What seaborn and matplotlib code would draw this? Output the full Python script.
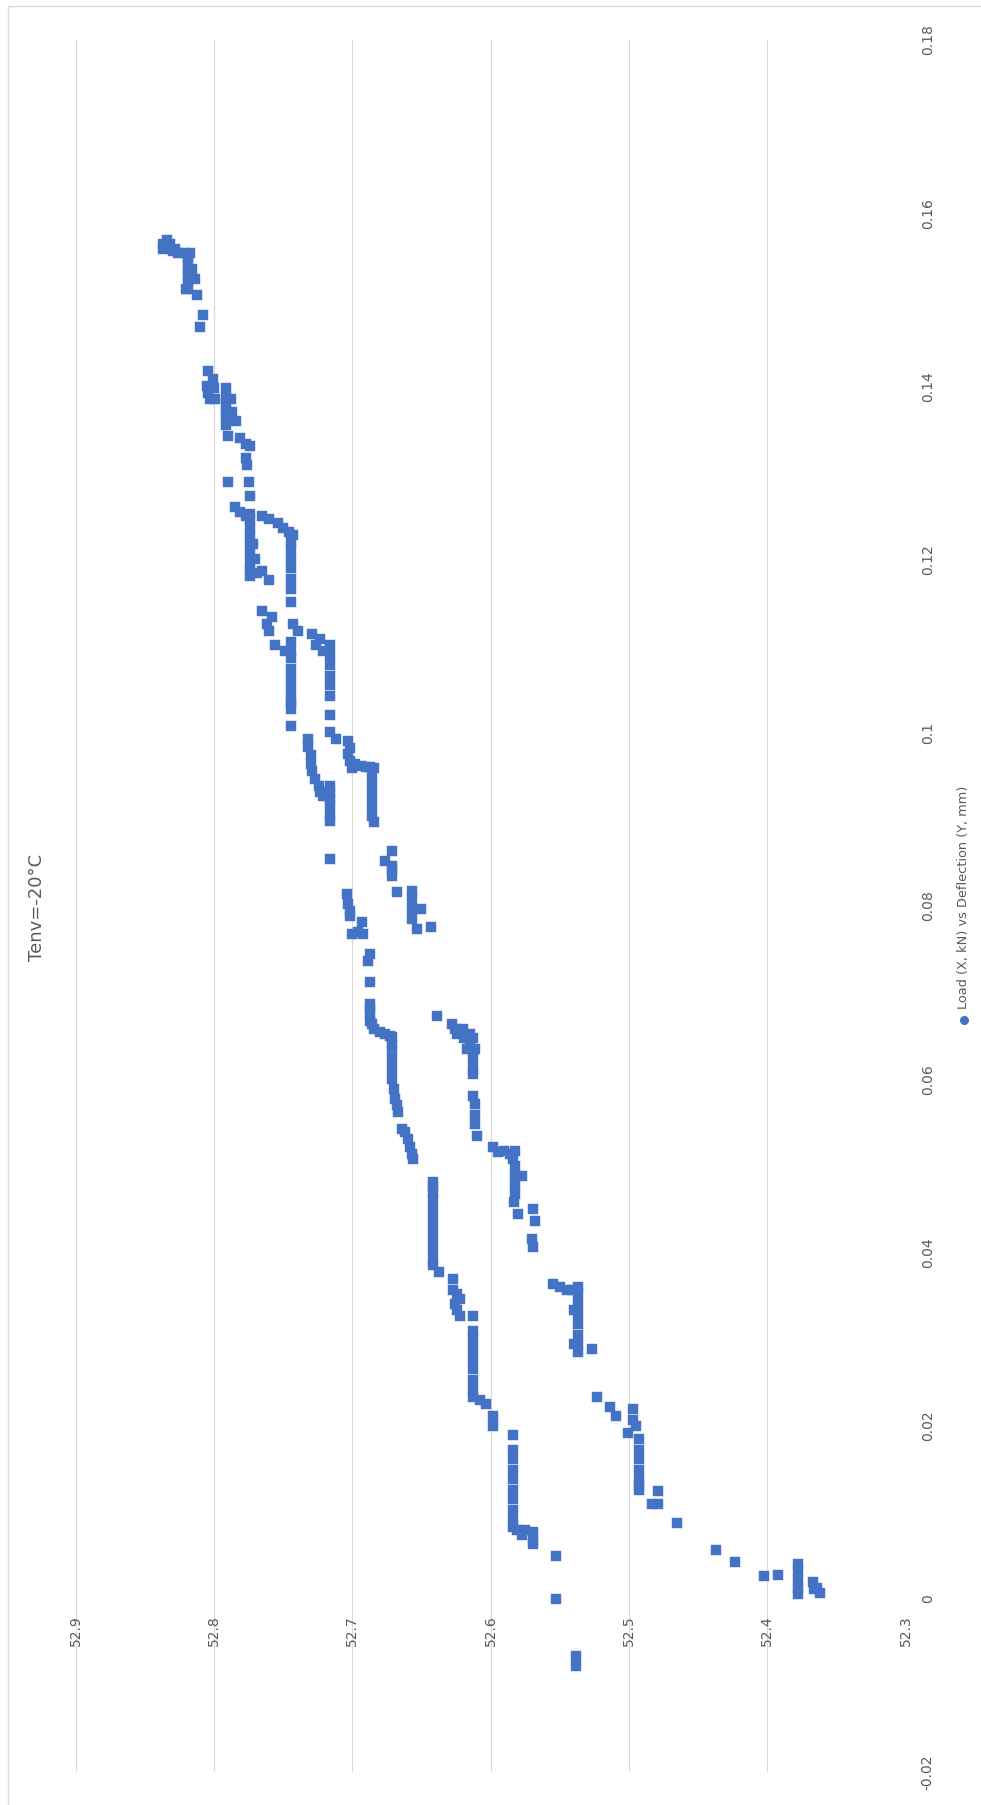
import matplotlib
matplotlib.use("Agg")
import matplotlib.pyplot as plt
from matplotlib.lines import Line2D
from matplotlib.ticker import FuncFormatter
import pandas as pd
import seaborn as sns

# Load (kN) and deflection (mm) readings, split by load range
high_load = [
    0.1569, 0.1565, 0.1565, 0.1559, 0.1559, 0.1556, 0.1554, 0.1554, 0.1554,
    0.1548, 0.1542, 0.1536, 0.1528, 0.1521, 0.1513,
    0.1536, 0.1524, 0.1505, 0.1513, 0.1482, 0.1469,
    0.1418, 0.1409, 0.1398, 0.1386, 0.1401, 0.1392, 0.1386,
    0.1398, 0.1388, 0.1380, 0.1372, 0.1363, 0.1355,
    0.1386, 0.1371, 0.1360, 0.1343,
    0.1340, 0.1334, 0.1331, 0.1309, 0.1317,
    0.1290, 0.1290, 0.1274,
    0.1261, 0.1255, 0.1250, 0.1253,
    0.1247, 0.1238, 0.1228, 0.1218, 0.1207, 0.1195, 0.1187, 0.1181,
    0.1218, 0.1201, 0.1184, 0.1187, 0.1176,
    0.1250, 0.1247, 0.1242, 0.1236, 0.1232, 0.1228,
    0.1222, 0.1212, 0.1201, 0.1190, 0.1178, 0.1166, 0.1151,
    0.1141, 0.1134, 0.1126, 0.1118, 0.1101, 0.1095,
    0.1105, 0.1095, 0.1086, 0.1074, 0.1062, 0.1051, 0.1039,
    0.1126, 0.1118,
    0.1114, 0.1101, 0.1094, 0.1101, 0.1108,
    0.1090, 0.1078, 0.1066, 0.1055, 0.1043,
    0.1034, 0.1028, 0.1008, 0.1020, 0.1001,
]
high_defl = [
    52.834, 52.837, 52.832, 52.837, 52.828, 52.830, 52.826, 52.821, 52.817,
    52.819, 52.819, 52.819, 52.819, 52.819, 52.819,
    52.816, 52.814, 52.812, 52.820, 52.808, 52.810,
    52.804, 52.801, 52.800, 52.799, 52.805, 52.804, 52.803,
    52.791, 52.791, 52.791, 52.791, 52.791, 52.791,
    52.788, 52.787, 52.784, 52.790,
    52.781, 52.777, 52.774, 52.776, 52.777,
    52.790, 52.775, 52.774,
    52.785, 52.781, 52.777, 52.774,
    52.774, 52.774, 52.774, 52.774, 52.774, 52.774, 52.774, 52.774,
    52.772, 52.770, 52.769, 52.765, 52.760,
    52.765, 52.760, 52.754, 52.750, 52.746, 52.743,
    52.744, 52.744, 52.744, 52.744, 52.744, 52.744, 52.744,
    52.765, 52.758, 52.762, 52.760, 52.756, 52.749,
    52.744, 52.744, 52.744, 52.744, 52.744, 52.744, 52.744,
    52.743, 52.739,
    52.729, 52.726, 52.721, 52.716, 52.723,
    52.716, 52.716, 52.716, 52.716, 52.716,
    52.744, 52.744, 52.744, 52.716, 52.716,
]

mid_load = [
    0.0993,
    0.0993, 0.0984, 0.0974, 0.0964, 0.0956, 0.0947, 0.0938, 0.0932, 0.0927,
    0.0938, 0.0930, 0.0924, 0.0916, 0.0904, 0.0898, 0.0854,
    0.0990, 0.0982, 0.0976,
    0.0967, 0.0964, 0.0962, 0.0961, 0.0961, 0.0959, 0.0959,
    0.0949, 0.0938, 0.0927, 0.0916, 0.0904, 0.0897,
    0.0864, 0.0852, 0.0846, 0.0841, 0.0835, 0.0816,
    0.0817, 0.0808, 0.0797, 0.0785, 0.0797, 0.0774, 0.0776,
    0.0814, 0.0802, 0.0794, 0.0789, 0.0782,
    0.0768, 0.0770, 0.0768,
    0.0745, 0.0737, 0.0712,
    0.0687, 0.0681, 0.0675, 0.0667,
    0.0664, 0.0658, 0.0655, 0.0652, 0.0650,
    0.0649, 0.0641, 0.0632, 0.0623, 0.0612, 0.0600, 0.0589, 0.0577, 0.0570, 0.0562,
    0.0542, 0.0539, 0.0531, 0.0522, 0.0514, 0.0508,
    0.0673,
    0.0664, 0.0658, 0.0652, 0.0658, 0.0647, 0.0652, 0.0641, 0.0647, 0.0635, 0.0635,
    0.0632, 0.0623, 0.0612, 0.0606,
    0.0581, 0.0571, 0.0559, 0.0548, 0.0534,
    0.0522, 0.0516, 0.0517, 0.0514, 0.0517, 0.0508,
]
mid_defl = [
    52.712,
    52.732, 52.732, 52.730, 52.730, 52.729, 52.727, 52.724, 52.723, 52.721,
    52.716, 52.716, 52.716, 52.716, 52.716, 52.716, 52.716,
    52.703, 52.702, 52.703,
    52.702, 52.698, 52.694, 52.690, 52.687, 52.684, 52.700,
    52.686, 52.686, 52.686, 52.686, 52.686, 52.684,
    52.671, 52.676, 52.671, 52.671, 52.671, 52.668,
    52.657, 52.657, 52.657, 52.657, 52.650, 52.653, 52.643,
    52.704, 52.703, 52.702, 52.702, 52.693,
    52.700, 52.696, 52.692,
    52.687, 52.689, 52.687,
    52.687, 52.687, 52.687, 52.687,
    52.686, 52.684, 52.680, 52.676, 52.673,
    52.671, 52.671, 52.671, 52.671, 52.671, 52.671, 52.670, 52.669, 52.668, 52.667,
    52.664, 52.662, 52.660, 52.658, 52.657, 52.656,
    52.639,
    52.628, 52.626, 52.624, 52.620, 52.619, 52.615, 52.615, 52.613, 52.617, 52.611,
    52.613, 52.613, 52.613, 52.613,
    52.613, 52.611, 52.611, 52.611, 52.610,
    52.598, 52.595, 52.590, 52.586, 52.582, 52.584,
]

low_load = [
    0.0500, 0.0488, 0.0477, 0.0467, 0.0458, 0.0488,
    0.0477, 0.0470, 0.0444,
    0.0450, 0.0436, 0.0415, 0.0406,
    0.0481, 0.0462, 0.0450, 0.0439, 0.0427, 0.0415, 0.0404, 0.0392, 0.0386,
    0.0377,
    0.0369, 0.0357, 0.0352, 0.0346, 0.0340, 0.0334, 0.0326,
    0.0326,
    0.0309, 0.0300, 0.0288, 0.0277, 0.0265, 0.0253, 0.0242, 0.0233,
    0.0230, 0.0225, 0.0211, 0.0199, 0.0189,
    0.0172, 0.0161, 0.0149, 0.0138, 0.0126, 0.0115, 0.0103, 0.0092, 0.0083,
    0.0080, 0.0074, 0.0080, 0.0077, 0.0068, 0.0063,
    0.0049, 0.0000,
    0.0363, 0.0360, 0.0357, 0.0357, 0.0360,
    0.0352, 0.0340, 0.0329, 0.0317, 0.0305, 0.0294, 0.0285, 0.0334, 0.0294,
    0.0289, 0.0233, 0.0222, 0.0211,
    0.0219, 0.0207, 0.0199, 0.0191,
    0.0184, 0.0172, 0.0161, 0.0149, 0.0138, 0.0130, 0.0126,
    0.0124, 0.0109, 0.0109, 0.0088, 0.0056, 0.0043, 0.0026, 0.0028,
    0.0040, 0.0032, 0.0022, 0.0013, 0.0005,
    0.0019, 0.0013, 0.0007, 0.0011,
    -0.0066, -0.0078,
]
low_defl = [
    52.582, 52.582, 52.582, 52.582, 52.583, 52.577,
    52.642, 52.642, 52.580,
    52.569, 52.568, 52.570, 52.569,
    52.642, 52.642, 52.642, 52.642, 52.642, 52.642, 52.642, 52.642, 52.642,
    52.637,
    52.627, 52.627, 52.624, 52.622, 52.626, 52.624, 52.622,
    52.613,
    52.613, 52.613, 52.613, 52.613, 52.613, 52.613, 52.613, 52.613,
    52.608, 52.603, 52.598, 52.598, 52.584,
    52.584, 52.584, 52.584, 52.584, 52.584, 52.584, 52.584, 52.584, 52.584,
    52.581, 52.577, 52.575, 52.569, 52.569, 52.569,
    52.553, 52.553,
    52.555, 52.550, 52.545, 52.541, 52.537,
    52.537, 52.537, 52.537, 52.537, 52.537, 52.537, 52.537, 52.540, 52.540,
    52.527, 52.523, 52.514, 52.509,
    52.497, 52.497, 52.495, 52.501,
    52.493, 52.493, 52.493, 52.493, 52.493, 52.493, 52.493,
    52.479, 52.483, 52.479, 52.465, 52.437, 52.423, 52.402, 52.392,
    52.378, 52.378, 52.378, 52.378, 52.378,
    52.367, 52.364, 52.362, 52.366,
    52.538, 52.538,
]

load_ticks = [-0.02, 0.0, 0.02, 0.04, 0.06, 0.08, 0.10, 0.12, 0.14, 0.16, 0.18]
deflection_ticks = [52.3, 52.4, 52.5, 52.6, 52.7, 52.8, 52.9]

title_text = "Tenv=-20°C"
series_label = "Load (X, kN) vs Deflection (Y, mm)"

BLUE = "#4472C4"
TEXT = "#595959"
GRID = "#D9D9D9"

df = pd.DataFrame({
    "load": high_load + mid_load + low_load,
    "deflection": high_defl + mid_defl + low_defl,
})

sns.set_theme(style="white")
plt.rcParams["font.family"] = ["DejaVu Sans"]

W, H = 981, 1805
fig = plt.figure(figsize=(W / 100, H / 100), dpi=100)
fig.patch.set_facecolor("white")

# Plot area in pixel terms: left 75.7, right 905.5, top 40, bottom 1772
ax = fig.add_axes([75.7 / W, 1 - 1772 / H, (905.5 - 75.7) / W, (1772 - 40) / H])
ax.set_facecolor("white")

sns.scatterplot(data=df, x="deflection", y="load", marker="s", s=44,
                color=BLUE, edgecolor=BLUE, linewidth=0.3, legend=False, ax=ax)

ax.set_xlim(52.9, 52.3)
ax.set_ylim(-0.02, 0.18)
ax.set_xticks(deflection_ticks)
ax.set_yticks(load_ticks)


def general_fmt(v, _pos):
    if abs(v) < 1e-9:
        return "0"
    return f"{round(v, 4):g}"


ax.xaxis.set_major_formatter(FuncFormatter(general_fmt))
ax.yaxis.set_major_formatter(FuncFormatter(general_fmt))

ax.grid(False)
ax.xaxis.grid(True, color=GRID, linewidth=0.8)
ax.set_xlabel("")
ax.set_ylabel("")

for side in ["top", "left", "right"]:
    ax.spines[side].set_visible(False)
# deflection labels sit at the zero-load line
ax.spines["bottom"].set_position(("data", 0))
ax.spines["bottom"].set_color("none")

ax.yaxis.tick_right()
ax.tick_params(axis="y", length=0, pad=16, labelsize=10, labelcolor=TEXT,
               labelrotation=90, left=False, labelleft=False, right=False,
               labelright=True)
ax.tick_params(axis="x", length=0, pad=12, labelsize=10, labelcolor=TEXT,
               labelrotation=90)
for lbl in ax.get_yticklabels():
    lbl.set_horizontalalignment("center")
    lbl.set_verticalalignment("center")

# Chart title
fig.text(37.5 / W, 1 - 907.5 / H, title_text, rotation=90, ha="center",
         va="center", fontsize=13, color=TEXT)

# Legend entry
fig.add_artist(Line2D([964 / W], [1 - 1020 / H], marker="o", markersize=5.5,
                      color=BLUE, linestyle="none", transform=fig.transFigure))
fig.text(963.5 / W, 1 - 1009 / H, series_label, rotation=90, ha="center",
         va="bottom", fontsize=9.3, color=TEXT)

# Chart frame
fig.add_artist(Line2D([7.5 / W, 1.0], [1 - 6 / H, 1 - 6 / H], color=GRID,
                      linewidth=1.0, transform=fig.transFigure))
fig.add_artist(Line2D([7.5 / W, 7.5 / W], [0.0, 1 - 6 / H], color=GRID,
                      linewidth=1.0, transform=fig.transFigure))

fig.savefig("out.png", dpi=100, facecolor="white")
